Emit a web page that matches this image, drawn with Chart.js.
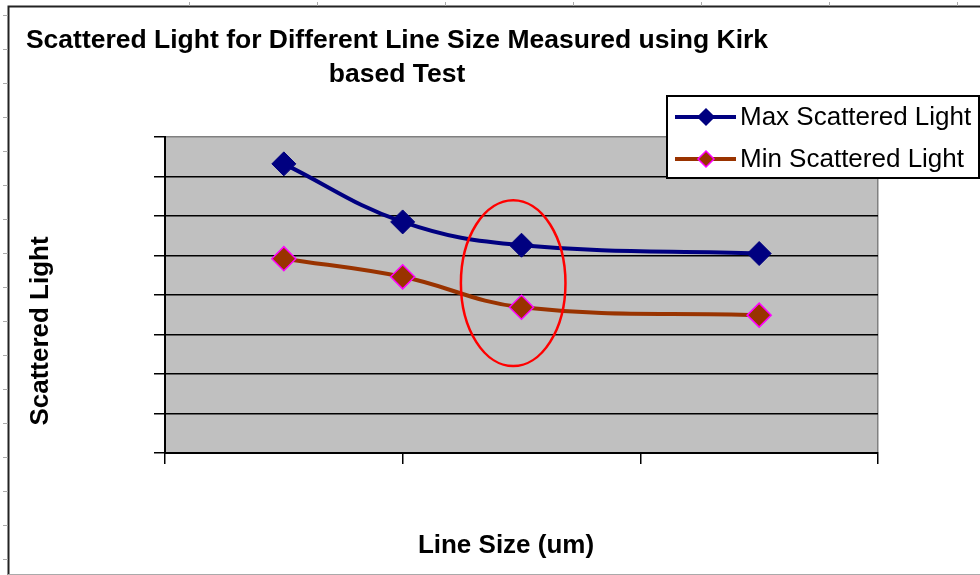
<!DOCTYPE html>
<html>
<head>
<meta charset="utf-8">
<title>Scattered Light for Different Line Size</title>
<script src="https://cdn.jsdelivr.net/npm/chart.js@4.4.1/dist/chart.umd.min.js"></script>
<style>
  html, body { margin: 0; padding: 0; background: #fff; }
  #chart { display: block; }
</style>
</head>
<body>
<canvas id="chart" width="980" height="575"></canvas>
<script>
// data
const lineSizes = [1, 2, 3, 5];
const maxScattered = [7.32, 5.85, 5.26, 5.05];
const minScattered = [4.92, 4.46, 3.69, 3.49];
const seriesLabels = ['Max Scattered Light', 'Min Scattered Light'];
const xRange = [0, 6];
const yRange = [0, 8];
// the red ring around the 3 um point (centre and half sizes in data units)
const ringCentre = [2.93, 4.3];
const ringSize = [0.44, 2.1];

const FONT = "'Liberation Sans', Arial, sans-serif";

function toPoints(values) {
    return values.map((v, i) => ({ x: lineSizes[i], y: v }));
}

// grey plot area and the outer frame
const backgroundPlugin = {
    id: 'background',
    beforeDraw(chart) {
        const ctx = chart.ctx;
        const area = chart.chartArea;
        ctx.save();
        ctx.fillStyle = '#c0c0c0';
        ctx.fillRect(area.left, area.top, area.right - area.left, area.bottom - area.top);

        ctx.strokeStyle = '#222';
        ctx.lineWidth = 2;
        ctx.beginPath();
        ctx.moveTo(8.5, 575);
        ctx.lineTo(8.5, 6.5);
        ctx.lineTo(980, 6.5);
        ctx.stroke();

        ctx.strokeStyle = '#aaa';
        ctx.lineWidth = 1;
        ctx.beginPath();
        ctx.moveTo(8, 574.5);
        ctx.lineTo(980, 574.5);
        for (let y = 15; y < 575; y += 34) {
            ctx.moveTo(3, y + 0.5);
            ctx.lineTo(8, y + 0.5);
        }
        for (let x = 189; x < 980; x += 128) {
            ctx.moveTo(x + 0.5, 2);
            ctx.lineTo(x + 0.5, 6);
        }
        ctx.stroke();
        ctx.restore();
    }
};

// red ellipse annotation
const ringPlugin = {
    id: 'ring',
    afterDatasetsDraw(chart) {
        const ctx = chart.ctx;
        const xs = chart.scales.x;
        const ys = chart.scales.y;
        const cx = xs.getPixelForValue(ringCentre[0]);
        const cy = ys.getPixelForValue(ringCentre[1]);
        const rx = xs.getPixelForValue(ringCentre[0] + ringSize[0]) - cx;
        const ry = cy - ys.getPixelForValue(ringCentre[1] + ringSize[1]);
        ctx.save();
        ctx.strokeStyle = '#ff0000';
        ctx.lineWidth = 2.5;
        ctx.beginPath();
        ctx.ellipse(cx, cy, rx, ry, 0, 0, Math.PI * 2);
        ctx.stroke();
        ctx.restore();
    }
};

// titles and the boxed legend, placed like the original
const textPlugin = {
    id: 'texts',
    afterDraw(chart) {
        const ctx = chart.ctx;
        ctx.save();
        ctx.fillStyle = '#000';
        ctx.textAlign = 'center';
        ctx.textBaseline = 'alphabetic';
        ctx.font = 'bold 26.5px ' + FONT;
        ctx.fillText('Scattered Light for Different Line Size Measured using Kirk', 397, 48);
        ctx.fillText('based Test', 397, 82);
        ctx.font = 'bold 26px ' + FONT;
        ctx.fillText('Line Size (um)', 506, 553);

        ctx.translate(48, 331);
        ctx.rotate(-Math.PI / 2);
        ctx.fillText('Scattered Light', 0, 0);
        ctx.restore();

        // legend box
        ctx.save();
        ctx.fillStyle = '#fff';
        ctx.fillRect(667, 96, 312, 82);
        ctx.strokeStyle = '#000';
        ctx.lineWidth = 2;
        ctx.strokeRect(667, 96, 312, 82);
        ctx.font = '26px ' + FONT;
        ctx.textAlign = 'left';
        ctx.textBaseline = 'middle';
        chart.data.datasets.forEach((ds, i) => {
            const y = 117 + i * 42;
            ctx.strokeStyle = ds.borderColor;
            ctx.lineWidth = 4;
            ctx.beginPath();
            ctx.moveTo(675, y);
            ctx.lineTo(736, y);
            ctx.stroke();
            ctx.fillStyle = ds.pointBackgroundColor;
            ctx.strokeStyle = ds.pointBorderColor;
            ctx.lineWidth = 1.5;
            ctx.beginPath();
            ctx.moveTo(706, y - 8);
            ctx.lineTo(714, y);
            ctx.lineTo(706, y + 8);
            ctx.lineTo(698, y);
            ctx.closePath();
            ctx.fill();
            ctx.stroke();
            ctx.fillStyle = '#000';
            ctx.fillText(ds.label, 740, y + 1);
        });
        ctx.restore();
    }
};

const ctx = document.getElementById('chart').getContext('2d');
new Chart(ctx, {
    type: 'scatter',
    data: {
        datasets: [{
            label: seriesLabels[0],
            data: toPoints(maxScattered),
            showLine: true,
            tension: 0.4,
            borderColor: '#000080',
            borderWidth: 4,
            pointStyle: 'rectRot',
            pointRadius: 12,
            pointBackgroundColor: '#000080',
            pointBorderColor: '#000080',
            pointBorderWidth: 1
        }, {
            label: seriesLabels[1],
            data: toPoints(minScattered),
            showLine: true,
            tension: 0.4,
            borderColor: '#993300',
            borderWidth: 4,
            pointStyle: 'rectRot',
            pointRadius: 12,
            pointBackgroundColor: '#993300',
            pointBorderColor: '#ff00ff',
            pointBorderWidth: 1.5
        }]
    },
    options: {
        responsive: false,
        animation: false,
        devicePixelRatio: 1,
        layout: { padding: { top: 137, right: 102, bottom: 110, left: 0 } },
        plugins: {
            legend: { display: false },
            title: { display: false },
            tooltip: { enabled: false }
        },
        scales: {
            x: {
                type: 'linear',
                min: xRange[0],
                max: xRange[1],
                afterFit(scale) { scale.height = 12; },
                ticks: { display: false, stepSize: 2 },
                grid: {
                    color: c => (c.tick && c.tick.value === xRange[1]) ? '#808080' : 'rgba(0,0,0,0)',
                    tickColor: '#000',
                    tickLength: 11,
                    lineWidth: 1.5
                },
                border: { display: true, color: '#000', width: 2 }
            },
            y: {
                min: yRange[0],
                max: yRange[1],
                afterFit(scale) { scale.width = 165; },
                ticks: { display: false, stepSize: 1 },
                grid: {
                    color: c => (c.tick && c.tick.value === yRange[1]) ? '#808080' : '#000',
                    tickColor: '#000',
                    tickLength: 11,
                    lineWidth: 1.5
                },
                border: { display: true, color: '#000', width: 2 }
            }
        }
    },
    plugins: [backgroundPlugin, ringPlugin, textPlugin]
});
</script>
</body>
</html>
